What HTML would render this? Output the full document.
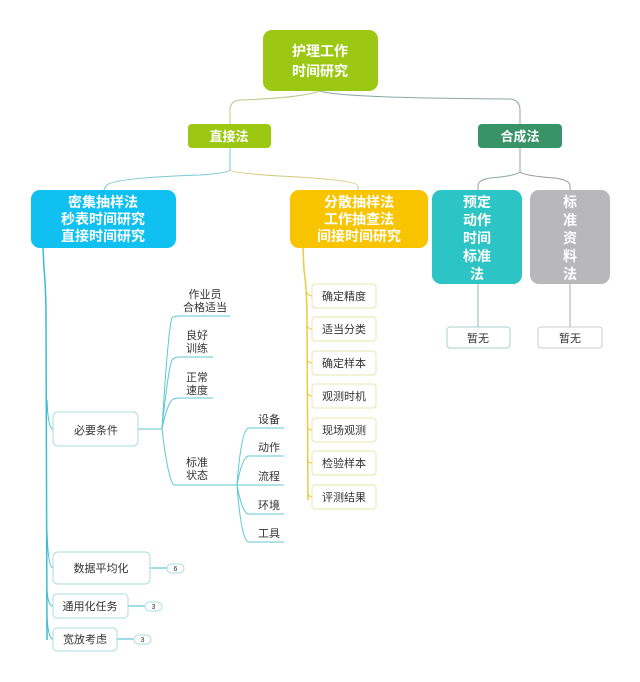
<!DOCTYPE html>
<html><head><meta charset="utf-8"><style>
html,body{margin:0;padding:0;background:#fff;}
svg{display:block;}
text{font-family:"Liberation Sans","Noto Sans CJK SC",sans-serif;}
.w{fill:#fff;font-weight:bold;font-size:14px;text-anchor:middle;}
.d{fill:#333;font-size:11px;text-anchor:middle;}
</style></head><body>
<svg width="640" height="682" viewBox="0 0 640 682" xmlns="http://www.w3.org/2000/svg">
<rect width="640" height="682" fill="#fff"/>
<g fill="none" stroke-width="1">
<!-- root connectors -->
<path d="M320 91 Q300 98 240 100 Q230 101 230 110 L230 124" stroke="#b9c98a"/>
<path d="M320 91 Q340 98 510 99 Q520 100 520 110 L520 124" stroke="#8aa8a8"/>
<!-- 直接法 children -->
<path d="M230 148 L230 170 Q228 173 200 175 Q110 178 106 186 L104 190" stroke="#7ac8d8"/>
<path d="M230 170 Q232 173 280 176 Q358 180 358 186 L358 190" stroke="#d8c880"/>
<!-- 合成法 children -->
<path d="M520 148 L520 172 Q515 176 490 178 Q478 180 478 186 L478 190" stroke="#8aa8a0"/>
<path d="M520 172 Q525 176 555 178 Q570 180 570 186 L570 190" stroke="#999"/>
<path d="M478 284 L478 327" stroke="#8ab8b8"/>
<path d="M570 284 L570 327" stroke="#aaa"/>
<!-- blue vertical -->
<path d="M43 248 L44 268 Q46 290 46 320 L47 640" stroke="#3cbcd0" stroke-width="1.5"/>
<path d="M47 400 Q48 429 53 429" stroke="#3cbcd0"/>
<path d="M47 530 Q48 568 53 568" stroke="#3cbcd0"/>
<path d="M47 590 Q48 606 53 606" stroke="#3cbcd0"/>
<path d="M47 615 Q48 639 53 639" stroke="#3cbcd0"/>
<!-- badges connectors -->
<path d="M150 568 L167 568 M128 606 L145 606 M117 639 L134 639" stroke="#3cbcd0"/>
<!-- 必要条件 branches -->
<path d="M138 429 L162 429" stroke="#5cc8d0"/>
<path d="M162 429 Q168 330 172 318 Q174 316 180 316 L230 316" stroke="#5cc8d0"/>
<path d="M162 429 Q168 370 172 360 Q174 357 180 357 L213 357" stroke="#5cc8d0"/>
<path d="M162 429 Q167 405 172 400 Q174 398 180 398 L213 398" stroke="#5cc8d0"/>
<path d="M162 429 Q168 480 174 485 L238 485" stroke="#5cc8d0"/>
<path d="M237 485 Q241 432 248 428 L284 428" stroke="#5cc8d0"/>
<path d="M237 485 Q242 458 248 456 L284 456" stroke="#5cc8d0"/>
<path d="M237 485 L284 485" stroke="#5cc8d0"/>
<path d="M237 485 Q242 512 248 514 L284 514" stroke="#5cc8d0"/>
<path d="M237 485 Q241 538 248 542 L284 542" stroke="#5cc8d0"/>
<!-- yellow vertical -->
<path d="M303 248 L304 270 Q307 290 307 320 L308 500" stroke="#e8cc40" stroke-width="1.5"/>
</g>
<!-- main nodes -->
<rect x="263" y="30" width="115" height="61" rx="9" fill="#9cc814"/>
<text class="w" x="320" y="56">护理工作</text>
<text class="w" x="320" y="76">时间研究</text>
<rect x="188" y="124" width="83" height="24" rx="4" fill="#9cc814"/>
<text class="w" x="229" y="141" style="font-size:13px">直接法</text>
<rect x="478" y="124" width="84" height="24" rx="4" fill="#389468"/>
<text class="w" x="520" y="141" style="font-size:13px">合成法</text>
<rect x="31" y="190" width="145" height="58" rx="9" fill="#10c0f0"/>
<text class="w" x="103" y="207">密集抽样法</text>
<text class="w" x="103" y="224">秒表时间研究</text>
<text class="w" x="103" y="241">直接时间研究</text>
<rect x="290" y="190" width="138" height="58" rx="9" fill="#f8c400"/>
<text class="w" x="359" y="207">分散抽样法</text>
<text class="w" x="359" y="224">工作抽查法</text>
<text class="w" x="359" y="241">间接时间研究</text>
<rect x="432" y="190" width="90" height="94" rx="9" fill="#2cc4c4"/>
<g class="w"><text class="w" x="477" y="207">预定</text><text class="w" x="477" y="225">动作</text><text class="w" x="477" y="243">时间</text><text class="w" x="477" y="261">标准</text><text class="w" x="477" y="279">法</text></g>
<rect x="530" y="190" width="80" height="94" rx="9" fill="#b8b8ba"/>
<text class="w" x="570" y="207">标</text><text class="w" x="570" y="225">准</text><text class="w" x="570" y="243">资</text><text class="w" x="570" y="261">料</text><text class="w" x="570" y="279">法</text>
<!-- 暂无 -->
<rect x="447" y="327" width="63" height="21" rx="3" fill="#fff" stroke="#a8d0d0"/>
<text class="d" x="478" y="342">暂无</text>
<rect x="538" y="327" width="64" height="21" rx="3" fill="#fff" stroke="#ccc"/>
<text class="d" x="570" y="342">暂无</text>
<!-- yellow list -->
<g fill="#fff" stroke="#ece4b0">
<rect x="312" y="284" width="64" height="24" rx="3"/>
<rect x="312" y="317" width="64" height="24" rx="3"/>
<rect x="312" y="351" width="64" height="24" rx="3"/>
<rect x="312" y="384" width="64" height="24" rx="3"/>
<rect x="312" y="418" width="64" height="24" rx="3"/>
<rect x="312" y="451" width="64" height="24" rx="3"/>
<rect x="312" y="485" width="64" height="24" rx="3"/>
</g>
<g fill="none" stroke="#e8cc40">
<path d="M307 292 Q308 296 312 296 M307 325 Q308 329 312 329 M307 359 Q308 363 312 363 M307 392 Q308 396 312 396 M307 426 Q308 430 312 430 M307 459 Q308 463 312 463 M308 493 Q309 497 312 497"/>
</g>
<text class="d" x="344" y="300">确定精度</text>
<text class="d" x="344" y="333">适当分类</text>
<text class="d" x="344" y="367">确定样本</text>
<text class="d" x="344" y="400">观测时机</text>
<text class="d" x="344" y="434">现场观测</text>
<text class="d" x="344" y="467">检验样本</text>
<text class="d" x="344" y="501">评测结果</text>
<!-- blue children -->
<g fill="#fff" stroke="#a8dce0">
<rect x="53" y="412" width="85" height="34" rx="5"/>
<rect x="53" y="552" width="97" height="32" rx="5"/>
<rect x="53" y="594" width="75" height="24" rx="4"/>
<rect x="53" y="628" width="64" height="23" rx="4"/>
<rect x="167" y="564" width="17" height="9" rx="4.5"/>
<rect x="145" y="602" width="17" height="9" rx="4.5"/>
<rect x="134" y="635" width="17" height="9" rx="4.5"/>
</g>
<text class="d" x="96" y="434">必要条件</text>
<text class="d" x="101" y="572">数据平均化</text>
<text class="d" x="90" y="610">通用化任务</text>
<text class="d" x="85" y="643">宽放考虑</text>
<text class="d" x="175.5" y="571" style="font-size:7px">6</text>
<text class="d" x="153.5" y="609" style="font-size:7px">3</text>
<text class="d" x="142.5" y="642" style="font-size:7px">3</text>
<text class="d" x="205" y="298">作业员</text>
<text class="d" x="205" y="311">合格适当</text>
<text class="d" x="197" y="339">良好</text>
<text class="d" x="197" y="352">训练</text>
<text class="d" x="197" y="381">正常</text>
<text class="d" x="197" y="394">速度</text>
<text class="d" x="197" y="466">标准</text>
<text class="d" x="197" y="479">状态</text>
<text class="d" x="269" y="423">设备</text>
<text class="d" x="269" y="451">动作</text>
<text class="d" x="269" y="480">流程</text>
<text class="d" x="269" y="509">环境</text>
<text class="d" x="269" y="537">工具</text>
</svg>
</body></html>
